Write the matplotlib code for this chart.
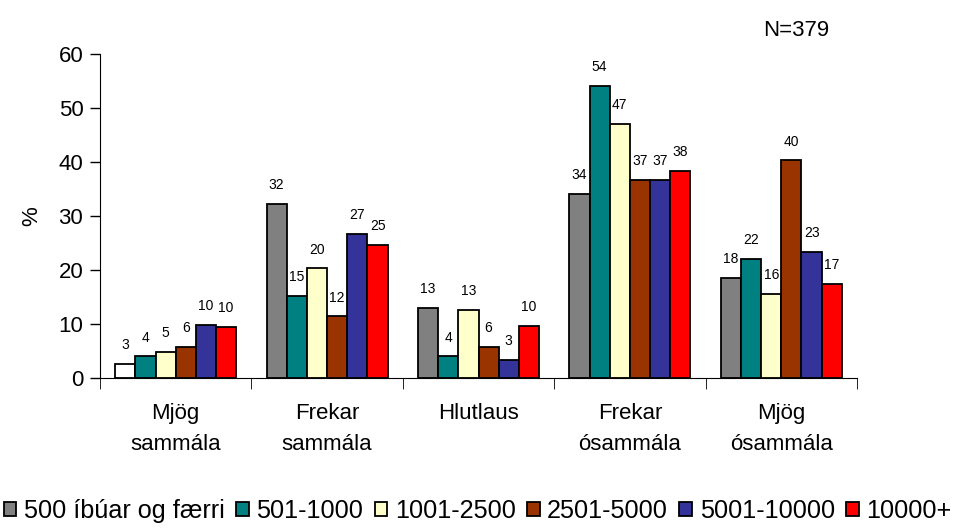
import numpy as np
import matplotlib.pyplot as plt

plt.rcParams['font.family'] = ['Liberation Sans', 'DejaVu Sans']

flokkar = ["Mjög\nsammála", "Frekar\nsammála", "Hlutlaus", "Frekar\nósammála", "Mjög\nósammála"]
hopar = ["500 íbúar og færri", "501-1000", "1001-2500", "2501-5000", "5001-10000", "10000+"]
gildi = [
    [2.6, 32.3, 12.9, 34.1, 18.5],
    [4.0, 15.2, 4.0, 54.1, 22.1],
    [4.8, 20.3, 12.6, 47.1, 15.5],
    [5.8, 11.4, 5.8, 36.7, 40.3],
    [9.9, 26.6, 3.3, 36.7, 23.3],
    [9.5, 24.7, 9.6, 38.4, 17.4],
]
merki = [
    [3, 32, 13, 34, 18],
    [4, 15, 4, 54, 22],
    [5, 20, 13, 47, 16],
    [6, 12, 6, 37, 40],
    [10, 27, 3, 37, 23],
    [10, 25, 10, 38, 17],
]
litir = ["#808080", "#008080", "#FFFFCC", "#993300", "#333399", "#FF0000"]

fig = plt.figure(figsize=(9.61, 5.29), dpi=100)
ax = fig.add_axes([100 / 961, 1 - 378 / 529, 757 / 961, 324 / 529])

x = np.arange(len(flokkar))
n = len(hopar)
b = 0.8 / n
allar = []
for i in range(n):
    pos = x - 0.4 + b * (i + 0.5)
    bars = ax.bar(pos, gildi[i], width=b, color=litir[i], edgecolor="black",
                  linewidth=1.3, label=hopar[i])
    allar.append(bars)
    for p, v, m in zip(pos, gildi[i], merki[i]):
        ax.text(p, v + 2.2, str(m), ha="center", va="bottom", fontsize=10)

ax.set_xlim(-0.5, len(flokkar) - 0.5)
ax.set_ylim(0, 60)
ax.set_yticks(range(0, 61, 10))
ax.tick_params(axis="y", labelsize=16, length=7, width=1, direction="out", pad=5)
ax.set_xticks(x)
ax.set_xticklabels(flokkar, fontsize=16, linespacing=1.6)
ax.tick_params(axis="x", length=0, pad=18)
ax.set_xticks(np.arange(-0.5, len(flokkar)), minor=True)
ax.tick_params(axis="x", which="minor", length=8, direction="out")
ax.spines["top"].set_visible(False)
ax.spines["right"].set_visible(False)
ax.set_ylabel("%", fontsize=16, labelpad=12)

fig.text(763 / 961, 1 - 31 / 529, "N=379", ha="left", va="center", fontsize=16)

fig.legend(loc="center", bbox_to_anchor=(0.497, 1 - 511 / 529), ncol=6, frameon=False,
           fontsize=18.2, handlelength=0.5, handleheight=0.5, handletextpad=0.3,
           columnspacing=0.45, borderaxespad=0)

# fyrsta súlan er hvít á myndinni
allar[0][0].set_facecolor("white")

plt.savefig("out.png", dpi=100)
